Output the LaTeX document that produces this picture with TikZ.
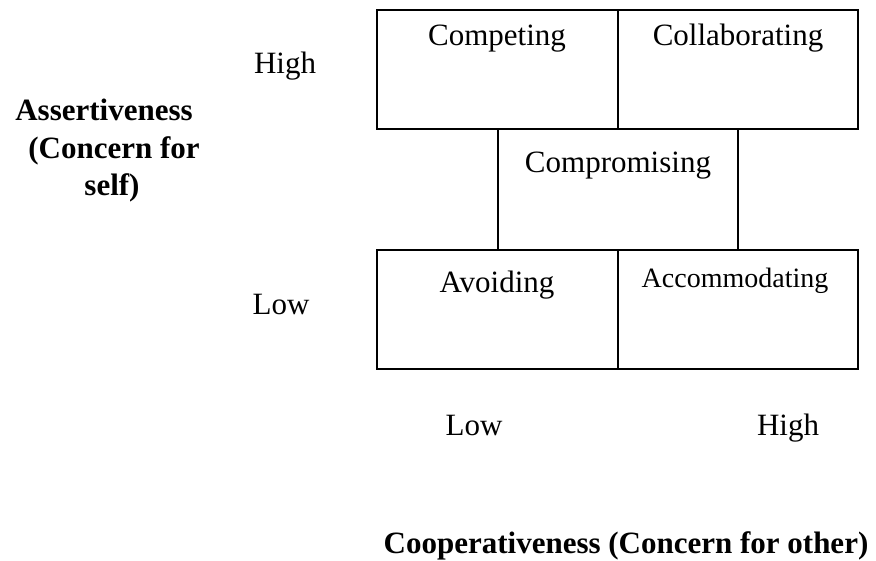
\documentclass[tikz,border=0pt]{standalone}
\usepackage{fontspec}
\setmainfont{Liberation Serif}
\begin{document}
\begin{tikzpicture}[x=1pt,y=-1pt,
  box/.style={draw, line width=1.3pt, rectangle, inner sep=0pt, outer sep=0pt, anchor=north west},
  lbl/.style={anchor=base, inner sep=0pt, font=\fontsize{31}{37}\selectfont},
  small/.style={anchor=base, inner sep=0pt, font=\fontsize{28}{34}\selectfont},
  axis/.style={anchor=base, inner sep=0pt, font=\fontsize{31}{37}\selectfont\bfseries}]
\useasboundingbox (0,0) rectangle (876,560);
% boxes
\node[box, minimum width=241pt, minimum height=119pt] (competing) at (377,10) {};
\node[box, minimum width=240pt, minimum height=119pt] (collab) at (618,10) {};
\node[box, draw=none, minimum width=240pt, minimum height=121pt] (comprom) at (498,129) {};
\node[box, minimum width=241pt, minimum height=119pt] (avoid) at (377,250) {};
\node[box, minimum width=240pt, minimum height=119pt] (accom) at (618,250) {};
\draw[line width=1.3pt] (comprom.north west) -- (comprom.south west);
\draw[line width=1.3pt] (comprom.north east) -- (comprom.south east);
% box labels
\node[lbl] (tcompeting) at (497,45) {Competing};
\node[lbl] (tcollab) at (738,45) {Collaborating};
\node[lbl] (tcomprom) at (618,172) {Compromising};
\node[lbl] (tavoid) at (497,292) {Avoiding};
\node[small] (taccom) at (735,287) {Accommodating};
% vertical axis
\node[lbl] (vhigh) at (285,73) {High};
\node[lbl] (vlow) at (281,314) {Low};
\node[axis] (a1) at (104,120) {Assertiveness};
\node[axis] (a2) at (114,158) {(Concern for};
\node[axis] (a3) at (112,195) {self)};
% horizontal axis
\node[lbl] (hlow) at (474,435) {Low};
\node[lbl] (hhigh) at (788,435) {High};
\node[axis] (coop) at (626,553) {Cooperativeness (Concern for other)};
\end{tikzpicture}
\end{document}
